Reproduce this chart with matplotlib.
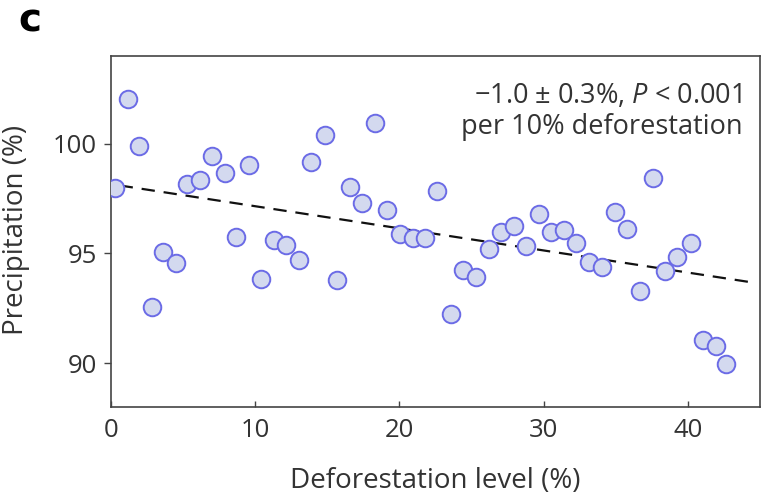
import matplotlib
matplotlib.use("Agg")
import matplotlib.pyplot as plt
import numpy as np

# Data
deforestation = [0.28, 1.15, 1.96, 2.82, 3.62, 4.5, 5.28, 6.16, 7.01, 7.87,
                 8.7, 9.55, 10.43, 11.28, 12.16, 13.03, 13.89, 14.81, 15.69, 16.54,
                 17.42, 18.29, 19.17, 20.05, 20.92, 21.8, 22.6, 23.58, 24.43, 25.31,
                 26.18, 27.04, 27.91, 28.77, 29.65, 30.54, 31.42, 32.27, 33.15, 34.03,
                 34.93, 35.8, 36.68, 37.58, 38.41, 39.26, 40.19, 41.04, 41.92, 42.61]
precipitation = [97.98, 102.05, 99.92, 92.55, 95.06, 94.57, 98.16, 98.33, 99.42, 98.66,
                 95.74, 99.04, 93.83, 95.59, 95.39, 94.68, 99.19, 100.39, 93.77, 98.05,
                 97.29, 100.94, 96.99, 95.90, 95.70, 95.70, 97.85, 92.25, 94.25, 93.92,
                 95.21, 95.97, 96.23, 95.32, 96.81, 95.97, 96.05, 95.47, 94.63, 94.38,
                 96.91, 96.11, 93.30, 98.44, 94.18, 94.82, 95.47, 91.06, 90.80, 89.97]

trend_intercept = 98.16
trend_slope = -0.1008
trend_x = [0.6, 44.2]

x_ticks = [0, 10, 20, 30, 40]
y_ticks = [90, 95, 100]

annotation = "\u22121.0 \u00b1 0.3%, $\\it{P}$ < 0.001\nper 10% deforestation"

plt.rcParams['font.family'] = ['Open Sans', 'DejaVu Sans']
plt.rcParams['mathtext.fontset'] = 'custom'
plt.rcParams['mathtext.it'] = 'Open Sans:italic'
plt.rcParams['mathtext.rm'] = 'Open Sans'

text_color = '#333333'
spine_color = '#444444'

fig = plt.figure(figsize=(7.61, 4.99), dpi=100)
ax = fig.add_axes([111/761, 92/499, 649/761, 351/499])

ax.scatter(deforestation, precipitation, s=160, facecolor='#d3d9ef',
           edgecolor='#6b6be6', linewidth=1.4, zorder=3)

tx = np.array(trend_x)
ax.plot(tx, trend_intercept + trend_slope * tx, linestyle=(0, (6, 4)),
        color='#111111', linewidth=1.6, zorder=2)

ax.set_xlim(0, 45)
ax.set_ylim(88, 104)
ax.set_xticks(x_ticks)
ax.set_yticks(y_ticks)

for sp in ax.spines.values():
    sp.set_color(spine_color)
    sp.set_linewidth(1.2)

ax.tick_params(axis='x', direction='in', length=4, width=1, color=spine_color,
               labelsize=18.5, labelcolor=text_color, pad=8)
ax.tick_params(axis='y', direction='out', length=5, width=1, color=spine_color,
               labelsize=18.5, labelcolor=text_color, pad=5)

ax.set_xlabel('Deforestation level (%)', fontsize=20, color=text_color)
ax.set_ylabel('Precipitation (%)', fontsize=20, color=text_color)
ax.xaxis.set_label_coords(0.5, (407 - 481) / 351)
ax.xaxis.label.set_va('center')
ax.yaxis.set_label_coords((16 - 111) / 649, 0.505)
ax.yaxis.label.set_va('center')

ax.text(0.973, (407 - 111.5) / 351, annotation, transform=ax.transAxes,
        ha='right', va='center', fontsize=19.5, color=text_color, linespacing=1.1)

fig.text(18/761, 1 - 21/499, 'c', fontsize=28, fontweight='bold',
         family=['DejaVu Sans'], va='center', ha='left', color='black')

fig.savefig('out.png', dpi=100)
